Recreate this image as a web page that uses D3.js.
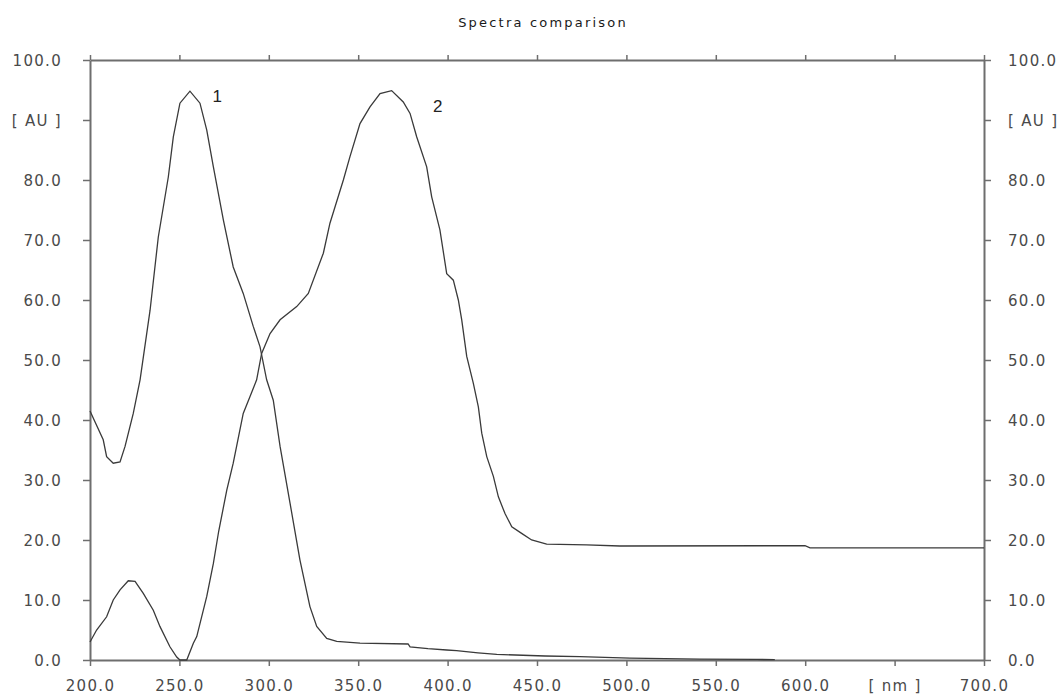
<!DOCTYPE html>
<html>
<head>
<meta charset="utf-8">
<script src="https://cdn.jsdelivr.net/npm/d3@7"></script>
<style>
  html, body { margin: 0; padding: 0; background: #fff; }
  svg { display: block; }
  .tl { font-family: "DejaVu Sans", sans-serif; font-size: 15px; fill: #4a4a4a; letter-spacing: 1.3px; }
</style>
</head>
<body>
<svg id="chart" width="1064" height="695"></svg>
<script>
const title = "Spectra comparison";
const xTicks = [200, 250, 300, 350, 400, 450, 500, 550, 600, 650, 700];
const xTickLabels = ["200.0", "250.0", "300.0", "350.0", "400.0", "450.0", "500.0", "550.0", "600.0", "[ nm ]", "700.0"];
const yTicks = [0, 10, 20, 30, 40, 50, 60, 70, 80, 90, 100];
const yTickLabels = ["0.0", "10.0", "20.0", "30.0", "40.0", "50.0", "60.0", "70.0", "80.0", "[ AU ]", "100.0"];

const s1Nm = [200, 207.4, 209.3, 213, 216.8, 219.6, 224.2, 228, 233.6, 238.2, 243.8, 246.6, 250.3, 255.9, 261.5, 265.3, 269, 274.6, 280.1, 285.7, 291.3, 295.1, 298.8, 302.5, 306.3, 311.9, 317.4, 323, 326.8, 332.4, 338, 351, 377.9, 379, 389, 399.5, 405, 417, 427.5, 454.5, 474, 502, 541, 573, 583];
const s1Val = [41.5, 36.7, 33.9, 32.8, 33.0, 35.6, 41.1, 46.7, 58.3, 70.5, 80.5, 87.2, 92.8, 94.8, 92.8, 88.3, 82.2, 73.3, 65.5, 61.1, 55.6, 52.2, 46.7, 43.3, 35.6, 26.1, 16.7, 8.9, 5.6, 3.6, 3.1, 2.8, 2.67, 2.2, 1.9, 1.67, 1.55, 1.2, 0.94, 0.67, 0.56, 0.3, 0.15, 0.1, 0.05];

const s2Nm = [200, 203.7, 209.3, 213, 216.8, 221.4, 225.2, 229.8, 235.4, 239.1, 244.7, 248.5, 250.3, 254.1, 257.8, 259.7, 265.3, 269, 272, 276.5, 280.1, 285.7, 289.5, 293.2, 296, 300.7, 306.3, 315.6, 322.1, 330.5, 334.2, 341.7, 345.4, 351, 356.6, 362.2, 368.7, 375.2, 379, 382.7, 388.3, 391.1, 395.7, 399.5, 403.2, 406, 407.9, 410.7, 414.4, 417.2, 419.1, 421.9, 425.6, 428.4, 432.1, 435.9, 441.4, 447, 455.4, 477.7, 496.4, 599.9, 602.7, 700];
const s2Val = [3.0, 5.0, 7.2, 10.0, 11.7, 13.2, 13.1, 11.1, 8.3, 5.6, 2.2, 0.5, 0, 0, 2.8, 3.9, 10.6, 16.1, 21.5, 28.3, 32.8, 41.1, 43.9, 46.7, 51.1, 54.4, 56.7, 58.9, 61.1, 67.8, 72.8, 80.0, 83.9, 89.4, 92.2, 94.4, 94.9, 93.0, 91.1, 87.2, 82.2, 77.2, 71.7, 64.4, 63.3, 60.0, 56.7, 50.6, 46.1, 42.2, 37.8, 33.9, 30.6, 27.2, 24.4, 22.2, 21.1, 20.0, 19.3, 19.2, 19.0, 19.05, 18.7, 18.7];

const seriesLabels = ["1", "2"];
const labelNm = [268.5, 391.8];
const labelVal = [93.0, 91.3];

const svg = d3.select("#chart");
const mLeft = 90, mRight = 984, mTop = 60, mBottom = 660;
const x = d3.scaleLinear().domain([200, 700]).range([mLeft, mRight]);
const y = d3.scaleLinear().domain([0, 100]).range([mBottom, mTop]);
const axisColor = "#6e6e6e";

// title
svg.append("text").attr("x", 543).attr("y", 27).attr("text-anchor", "middle")
  .attr("font-family", "DejaVu Sans, sans-serif").attr("font-size", 13).attr("letter-spacing", "2.2px")
  .attr("fill", "#1a1a1a").text(title);

function styleAxis(g) {
  g.select(".domain").attr("stroke", axisColor).attr("stroke-width", 2);
  g.selectAll(".tick line").attr("stroke", axisColor).attr("stroke-width", 1.5);
}

// bottom axis
const xb = svg.append("g").attr("transform", `translate(0,${mBottom})`)
  .call(d3.axisBottom(x).tickValues(xTicks).tickSize(6).tickSizeOuter(0).tickFormat((d, i) => xTickLabels[i]));
styleAxis(xb);
xb.selectAll("text").attr("class", "tl").attr("dy", null).attr("y", 31).attr("font-size", null).attr("font-family", null).attr("fill", null);

// top axis
const xt = svg.append("g").attr("transform", `translate(0,${mTop})`)
  .call(d3.axisTop(x).tickValues(xTicks).tickSize(5).tickSizeOuter(0).tickFormat(""));
styleAxis(xt);

// left axis
const yl = svg.append("g").attr("transform", `translate(${mLeft},0)`)
  .call(d3.axisLeft(y).tickValues(yTicks).tickSize(7).tickSizeOuter(0).tickFormat((d, i) => yTickLabels[i]));
styleAxis(yl);
yl.selectAll("text").attr("class", "tl").attr("x", -28).attr("dy", "0.35em").attr("font-size", null).attr("font-family", null).attr("fill", null);

// right axis
const yr = svg.append("g").attr("transform", `translate(${mRight},0)`)
  .call(d3.axisRight(y).tickValues(yTicks).tickSize(7).tickSizeOuter(0).tickFormat((d, i) => yTickLabels[i]));
styleAxis(yr);
yr.selectAll("text").attr("class", "tl").attr("x", 24).attr("dy", "0.35em").attr("font-size", null).attr("font-family", null).attr("fill", null);

// curves
const line = d3.line().x(d => x(d[0])).y(d => y(d[1]));
const series = [d3.zip(s1Nm, s1Val), d3.zip(s2Nm, s2Val)];
svg.append("g").selectAll("path").data(series).join("path")
  .attr("d", line).attr("fill", "none").attr("stroke", "#3a3a3a").attr("stroke-width", 1.3);

// series labels
svg.append("g").selectAll("text").data(seriesLabels).join("text")
  .attr("x", (d, i) => x(labelNm[i])).attr("y", (d, i) => y(labelVal[i]))
  .attr("font-family", "Liberation Sans, Arial, sans-serif").attr("font-size", 17).attr("fill", "#222")
  .text(d => d);
</script>
</body>
</html>
